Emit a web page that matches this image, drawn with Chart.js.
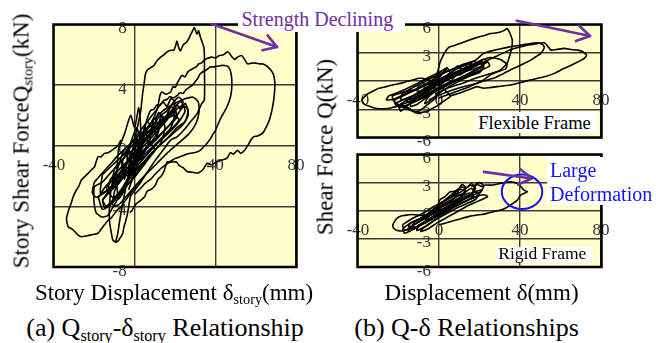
<!DOCTYPE html>
<html>
<head>
<meta charset="utf-8">
<script src="https://cdn.jsdelivr.net/npm/chart.js@4.4.1/dist/chart.umd.min.js"></script>
<style>
  html, body { margin: 0; padding: 0; background: #fff; }
  #wrap { position: relative; width: 656px; height: 343px; overflow: hidden;
          font-family: 'Liberation Serif', 'Times New Roman', serif; color: #000; }
  canvas { position: absolute; }
  .t { position: absolute; white-space: nowrap; line-height: 1; }
  .sub { font-size: 0.62em; position: relative; top: 0.3em; }
  .box { position: absolute; background: #fff; }
</style>
</head>
<body>
<div id="wrap">
  <canvas id="cStory" width="320" height="290" style="left:0;top:0;width:320px;height:290px"></canvas>
  <canvas id="cFlex" width="300" height="150" style="left:330px;top:0;width:300px;height:150px"></canvas>
  <canvas id="cRigid" width="300" height="145" style="left:330px;top:140px;width:300px;height:145px"></canvas>

  <div class="t" style="font-size:23px;left:21px;top:141px;transform:translate(-50%,-50%) rotate(-90deg)">Story Shear ForceQ<span class="sub">story</span>(kN)</div>
  <div class="t" style="font-size:23px;left:325px;top:146.5px;transform:translate(-50%,-50%) rotate(-90deg)">Shear Force Q(kN)</div>
  <div class="t" style="font-size:23px;left:174px;top:280.7px;transform:translateX(-50%)">Story Displacement δ<span class="sub">story</span>(mm)</div>
  <div class="t" style="font-size:23px;left:481.5px;top:280.7px;transform:translateX(-50%)">Displacement δ(mm)</div>
  <div class="t" style="font-size:26px;left:165px;top:315.2px;transform:translateX(-50%)">(a) Q<span class="sub">story</span>-δ<span class="sub">story</span> Relationship</div>
  <div class="t" style="font-size:26px;left:466.5px;top:315.2px;transform:translateX(-50%)">(b) Q-δ Relationships</div>

  <div class="box" style="left:238px;top:0;width:167px;height:31.5px"></div>
  <div class="t" style="font-size:20px;left:241.5px;top:9.25px;color:#7030A0">Strength Declining</div>

  <div class="box" style="left:475px;top:111.7px;width:121.7px;height:21px"></div>
  <div class="t" style="font-size:18.5px;left:478.3px;top:113.8px">Flexible Frame</div>

  <div class="box" style="left:495.7px;top:246.7px;width:97.6px;height:15px"></div>
  <div class="t" style="font-size:17.5px;left:498.3px;top:244.6px">Rigid Frame</div>

  <div class="box" style="left:547px;top:157px;width:109px;height:48px"></div>
  <div class="t" style="font-size:20px;left:550px;top:160px;color:#1414f0">Large</div>
  <div class="t" style="font-size:20px;left:550px;top:184.3px;color:#1414f0">Deformation</div>
</div>
<script>
// ---- axis ticks ----
const storyDispTicks = [-40, 0, 40, 80];
const storyShearTicks = [-8, -4, 0, 4, 8];
const frameDispTicks = [-40, 0, 40, 80];
const frameShearTicks = [-6, -3, 0, 3, 6];

// ---- (a) story shear force Q_story [kN] vs story displacement [mm] ----
const storyPeakLoop = [[-9.5,-6.4],[-8.4,-5.8],[-7.5,-5.0],[-6.8,-4.45],[-5.5,-3.5],[-4.3,-2.7],[-3,-1.8],[-1.9,-0.95],[-0.5,0.1],[0.6,0.8],[2,1.6],[3,2.3],[3.6,3.0],[4.1,3.6],[4.7,4.1],[5.3,4.7],[6.3,5.0],[8,5.15],[9.6,5.3],[11,5.6],[12.9,5.85],[14.5,6.0],[16.1,6.2],[18,6.3],[19.4,6.3],[20.3,6.6],[21,6.9],[21.8,6.5],[22.7,6.25],[23.5,6.5],[24.3,6.7],[25.5,6.8],[26.8,7.05],[27.6,7.3],[28.4,7.5],[29.6,7.8],[30.3,7.55],[30.9,7.35],[31.7,7.6],[32.5,7.2],[33.3,6.9],[34.3,6.5],[34.6,5.8],[34.6,5.0],[34.7,3.8],[34.5,3.0],[33.3,2.8],[30.9,2.1],[28.4,1.7],[25.1,1.14],[21,0.59],[17.8,0.37],[14,-0.3],[10,-1.0],[6,-1.8],[2,-2.6],[-2,-3.3]];
const storyWideLoop = [[-4,-2.4],[-2,-1.6],[0,-0.9],[2,-0.2],[4,0.4],[6,1.0],[8,1.5],[10,2.0],[11.5,2.6],[12.5,3.3],[13.5,3.55],[15.5,3.4],[17.8,3.55],[19,3.9],[20.2,3.85],[21,4.1],[22,4.35],[23.5,4.65],[25,4.55],[26.5,4.9],[27.6,5.0],[29,5.1],[30.5,5.2],[31.7,5.4],[33,5.45],[34.5,5.65],[35.8,5.75],[38,5.85],[40,5.8],[42,5.95],[44,6.0],[46,6.2],[47,6.1],[48,5.9],[49.5,5.7],[51,5.85],[53,5.95],[54.5,5.7],[56,5.4],[58,5.45],[60,5.45],[62,5.4],[63.6,5.4],[65.5,5.25],[67.5,5.0],[68.8,4.7],[69.5,4.2],[69.4,3.6],[68.8,2.9],[68,2.3],[66.8,1.7],[65.5,1.3],[63.6,0.85],[61,0.65],[59,0.6],[57.5,0.35],[56,0.0],[54.5,-0.3],[52.5,-0.5],[51,-0.3],[49,-0.55],[47.5,-0.45],[45.6,-0.84],[43,-0.95],[40.7,-1.06],[38,-1.25],[36,-1.15],[34,-1.55],[31.5,-1.8],[28.5,-1.75],[26,-1.7],[24,-1.45],[22,-1.3],[21,-1.1],[19,-1.05],[17.5,-1.1],[16.1,-1.06],[15.2,-1.4],[14.5,-1.7],[12.9,-2.05],[11.5,-2.2],[10.3,-2.6],[8,-2.9],[6.2,-3.0],[5,-3.35],[3,-3.6],[1,-3.8],[-0.2,-4.0],[-1.5,-4.3],[-2.5,-4.4]];
const storyMidLoop = [[-3,-2.9],[0,-1.8],[2,-0.8],[3.5,0.2],[5,1.2],[6.5,1.9],[8,2.35],[9.5,2.4],[11,2.7],[12.5,2.65],[14.5,3.0],[16,3.05],[17.5,3.25],[19,3.15],[21,3.3],[22.5,3.5],[24,3.45],[25.5,3.7],[27.6,3.9],[29,4.05],[30.5,4.3],[31.5,4.5],[32.5,4.75],[34,4.9],[35.5,5.0],[37.4,5.2],[39,5.2],[41,5.25],[43,5.3],[44.5,5.3],[46,5.25],[47.2,5.05],[48,4.6],[48.2,4.0],[47.8,3.4],[46.8,2.9],[45.5,2.5],[44.3,2.2],[43,1.9],[41.5,1.47],[40,1.0],[39,0.8],[37.5,0.45],[35.8,0.15],[34,-0.1],[32.5,-0.3],[30,-0.45],[27.6,-0.5],[25,-0.6],[23,-0.7],[20,-0.85],[18,-1.0],[15,-1.3],[13,-1.5],[10,-1.9],[8,-2.2],[5,-2.5],[3,-2.8],[0,-3.2]];
const storyInnerLoop = [[-10,-3],[-4,-1.2],[2,0.4],[8,1.5],[14,2.3],[20,2.8],[25,3.1],[29,3.2],[31.5,2.9],[32,2.3],[30.5,1.5],[27,0.8],[22,0.2],[16,-0.5],[10,-1.3],[4,-2.1],[-2,-3.0],[-8,-3.9],[-11,-3.9],[-10,-3]];
const storyInnerLoop2 = [[-16,-3.6],[-11,-2.6],[-6,-1.6],[0,-0.5],[6,0.5],[12,1.4],[18,2.1],[23,2.6],[26,2.5],[26.5,2.0],[24,1.4],[19,0.8],[13,0.1],[7,-0.7],[1,-1.6],[-5,-2.6],[-11,-3.6],[-15,-4.1],[-16,-3.6]];
const storyLeftLoop = [[-6.8,0.37],[-8.4,0.0],[-10,-0.18],[-13,-0.45],[-15,-0.5],[-16.6,-0.73],[-18.2,-0.73],[-19.9,-1.39],[-21.5,-1.6],[-23.1,-1.82],[-24.5,-2.0],[-26.4,-2.26],[-27.8,-2.7],[-28.9,-2.92],[-30.5,-3.36],[-31.5,-3.8],[-33,-4.35],[-33.8,-4.8],[-33.5,-5.1],[-33,-5.34],[-31,-5.5],[-29.7,-5.66],[-28,-5.9],[-26.4,-6.0],[-24,-5.95],[-21.5,-5.88],[-18.2,-5.77],[-16.6,-5.5],[-15,-5.22],[-13,-4.9],[-11.7,-4.78],[-9,-4.3],[-6.8,-4.02],[-4,-3.5],[-1.9,-3.1],[1,-2.6],[3,-2.3]];
const storyLeftInnerLoop = [[-8,-1.2],[-12,-1.8],[-16,-2.4],[-19.9,-2.7],[-20.3,-3.3],[-19.9,-4.0],[-19,-4.45],[-17.5,-4.6],[-16.6,-4.7],[-15,-4.68],[-13.3,-4.6],[-11,-4.1],[-8,-3.4],[-5,-2.6],[-2,-1.9]];
const storyBottomLoop = [[-2,-3.2],[-3.5,-4.45],[-4.5,-5.0],[-5.2,-5.3],[-6,-5.8],[-6.8,-6.0],[-8,-6.25],[-9.2,-6.35],[-10.2,-6.3],[-10.9,-6.2],[-11.5,-5.8],[-11.9,-5.5],[-12.4,-5.1],[-12.6,-4.5],[-12.5,-4.0],[-12.2,-3.4],[-11.7,-2.9],[-11,-2.4],[-10,-2.05],[-8.5,-1.5],[-7,-0.9],[-5.5,-0.3]];
const storyCore1 = [[-16,-1.9],[-12,-1.4],[-8,-0.9],[-4,-0.4],[0,0.2],[4,0.6],[8,1.1],[12,1.6],[16,2.0],[20,2.6],[23,2.9],[25,2.3],[22,1.6],[18,1.0],[14,0.5],[10,0.0],[6,-0.6],[2,-1.0],[-2,-1.6],[-6,-2.1],[-10,-2.6],[-14,-3.0],[-17,-3.1],[-16,-1.9]];
const storyCore2 = [[-10,-1.5],[-6,-0.9],[-2,-0.4],[2,0.1],[6,0.6],[10,1.2],[14,1.7],[18,2.2],[20,2.4],[21,1.9],[17,1.3],[13,0.8],[9,0.3],[5,-0.3],[1,-0.9],[-3,-1.4],[-7,-2.0],[-11,-2.4],[-10,-1.5]];
const storyCore3 = [[-20,-2.4],[-16,-1.8],[-12,-1.2],[-8,-0.6],[-4,-0.1],[0,0.4],[4,0.9],[8,1.3],[11,1.5],[12,1.0],[9,0.4],[5,-0.2],[1,-0.8],[-3,-1.4],[-7,-2.0],[-11,-2.6],[-15,-3.1],[-19,-3.4],[-21,-3.1],[-20,-2.4]];
const storyCore4 = [[-2,-0.8],[2,-0.1],[6,0.5],[10,1.0],[14,1.5],[17,2.2],[19,2.0],[21,2.7],[23,2.4],[25,2.8],[26.5,2.3],[25,1.6],[21,1.2],[17,0.6],[13,0.1],[9,-0.4],[5,-1.0],[1,-1.5],[-2,-1.9],[-3,-1.4],[-2,-0.8]];
const storyCore5 = [[-14,-2.8],[-10,-2.0],[-7,-1.0],[-5,-2.2],[-3,-0.2],[-1,-1.4],[1,0.5],[3,-0.6],[5,1.2],[7,0.0],[9,1.6],[11,0.6],[13,2.0],[15,1.2],[13,0.2],[9,-0.5],[5,-1.2],[1,-1.9],[-3,-2.5],[-7,-3.1],[-11,-3.4],[-14,-2.8]];
const storyCore6 = [[-6,-1.0],[-2,0.2],[1,1.2],[3,0.4],[6,1.6],[9,1.2],[12,2.2],[15,1.8],[18,2.6],[20,2.2],[18,1.2],[14,0.6],[10,0.0],[6,-0.6],[2,-1.2],[-2,-1.8],[-5,-2.0],[-6,-1.0]];
const storyCore7 = [[-8,-0.2],[-5,0.8],[-2,2.0],[0,1.2],[2,2.5],[3,1.0],[1,-0.5],[-2,-1.8],[-5,-2.9],[-8,-3.5],[-9,-2.0],[-8,-0.2]];
const storyCore8 = [[-18,-3.4],[-14,-2.6],[-10,-2.2],[-6,-1.5],[-2,-0.7],[2,-0.2],[0,-1.3],[-4,-2.3],[-8,-3.2],[-12,-3.9],[-16,-4.2],[-18,-3.4]];
const storyCore9 = [[-12,-2.2],[-8,-1.6],[-4,-1.1],[0,-0.5],[4,0.1],[8,0.7],[12,1.3],[16,1.8],[20,2.0],[22,1.7],[19,1.2],[15,0.7],[11,0.2],[7,-0.3],[3,-0.8],[-1,-1.3],[-5,-1.9],[-9,-2.5],[-12,-2.9],[-13,-2.6],[-12,-2.2]];
const storyCore10 = [[-4,-0.3],[0,0.5],[4,1.2],[8,1.9],[11,2.4],[14,2.9],[16,2.6],[18,3.1],[20,2.9],[19,2.3],[16,1.7],[12,1.1],[8,0.5],[4,-0.1],[0,-0.7],[-3,-1.0],[-4,-0.3]];
const storyCore11 = [[-16,-3.6],[-12,-3.0],[-8,-2.5],[-4,-1.8],[0,-1.2],[4,-0.5],[8,0.1],[10,-0.3],[6,-0.9],[2,-1.6],[-2,-2.3],[-6,-3.0],[-10,-3.6],[-14,-4.0],[-16,-3.6]];
const storyCore12 = [[0,-0.2],[4,0.6],[8,1.0],[12,1.9],[16,2.3],[20,3.0],[22,3.2],[24,2.9],[22,2.2],[18,1.5],[14,0.9],[10,0.3],[6,-0.2],[2,-0.8],[0,-0.2]];
const storyLoops = [storyPeakLoop, storyWideLoop, storyMidLoop, storyInnerLoop, storyInnerLoop2, storyLeftLoop, storyLeftInnerLoop, storyBottomLoop, storyCore1, storyCore2, storyCore3, storyCore4, storyCore5, storyCore6, storyCore7, storyCore8, storyCore9, storyCore10, storyCore11, storyCore12];

// ---- (b) flexible frame Q [kN] vs displacement [mm] ----
const flexPeakLoop = [[-4,-0.4],[-1.3,0.46],[0.35,1.87],[2,2.7],[3.7,3.3],[5.35,3.63],[8,3.8],[10.3,3.99],[13,4.2],[15,4.35],[17,4.5],[20,4.7],[22,4.8],[25.3,5.04],[28,5.1],[30.3,5.2],[32,5.35],[33.7,5.57],[34.5,5.3],[35.2,5.0],[36.2,4.34],[36,3.6],[35.3,2.93],[34.5,2.4],[33.7,1.87],[32,1.5],[30.3,1.16],[28,0.9],[25.3,0.63],[22,0.1],[18,-0.3],[14,-0.7],[10,-1.0],[5,-1.4],[0,-1.8]];
const flexMidLoop = [[-3,-0.8],[2,0.3],[8,1.2],[14,1.8],[18,2.2],[22,2.93],[26,3.2],[30,3.4],[35.3,3.63],[40,3.8],[45.3,3.99],[48,4.05],[50.3,3.99],[52,3.63],[51.5,3.3],[50.3,2.93],[48,2.6],[45.3,2.22],[42,1.85],[38.7,1.51],[35,1.15],[32,0.81],[29.5,0.55],[27,0.29],[22,0.0],[17,-0.35],[12,-0.6],[6,-1.0],[0,-1.5],[-5,-2.0]];
const flexWideLoop = [[10,0.6],[16,1.4],[22,2.0],[28,2.6],[34,3.2],[38,3.5],[43.7,3.81],[48,3.95],[52,4.06],[54,3.6],[55.3,3.28],[58,3.35],[62,3.46],[65,3.35],[68.7,3.28],[71,3.1],[72.9,2.75],[72,2.45],[70.3,2.22],[67,1.85],[63.7,1.51],[60,1.15],[57,0.81],[53,0.5],[48.7,0.29],[45,0.1],[42,-0.07],[38,-0.3],[35.3,-0.42],[32,-0.5],[28.7,-0.6],[25,-0.7],[22,-0.77],[18.7,-0.6],[15,-0.9],[10,-1.3],[5,-1.6]];
const flexInnerLoop = [[-8,-1.0],[0,0.0],[8,0.9],[15,1.6],[20,2.1],[25,2.5],[30,2.3],[33.5,1.8],[33,1.3],[29,1.0],[24,0.7],[18,0.3],[12,-0.2],[5,-0.7],[-2,-1.4]];
const flexLeftLoop = [[6,-1.6],[2,-0.8],[-2,-0.2],[-6,0.2],[-9.7,0.29],[-13,0.1],[-16.3,-0.07],[-19,-0.25],[-22.9,-0.42],[-26,-0.6],[-29.7,-0.77],[-32,-1.0],[-34.7,-1.3],[-36.5,-1.6],[-38,-2.0],[-37.5,-2.3],[-36.3,-2.54],[-34,-2.7],[-31.3,-2.89],[-28,-2.95],[-24.7,-2.89],[-21.3,-2.72],[-18,-2.6],[-14.7,-2.89],[-13,-3.2],[-11.3,-3.4],[-9,-3.35],[-6.3,-3.25],[-4,-3.0],[-1.3,-2.7],[2,-2.2],[6,-1.6]];
const flexLeftInnerLoop = [[-10,-0.9],[-16,-1.1],[-21,-1.4],[-23,-1.6],[-22.5,-2.1],[-21.3,-2.36],[-18,-2.7],[-14.7,-3.07],[-12.5,-3.2],[-10.5,-3.25],[-8,-2.9],[-5,-2.4],[-1,-1.7]];
const flexCore1 = [[-22,-2.0],[-16,-1.4],[-10,-0.8],[-4,-0.2],[2,0.4],[8,0.9],[14,1.4],[20,1.8],[24,2.0],[25,1.6],[20,1.1],[14,0.6],[8,0.1],[2,-0.5],[-4,-1.1],[-10,-1.7],[-16,-2.3],[-21,-2.6],[-22,-2.0]];
const flexCore2 = [[-18,-1.3],[-12,-0.6],[-6,0.1],[0,0.7],[6,1.2],[12,1.7],[17,2.1],[19,1.8],[14,1.1],[8,0.5],[2,-0.1],[-4,-0.8],[-10,-1.5],[-15,-2.0],[-19,-1.9],[-18,-1.3]];
const flexCore3 = [[-14,-2.2],[-8,-1.4],[-2,-0.5],[4,0.3],[10,1.0],[16,1.6],[22,2.3],[24,2.1],[18,1.2],[12,0.5],[6,-0.2],[0,-0.9],[-6,-1.7],[-11,-2.5],[-14,-2.7],[-14,-2.2]];
const flexCore4 = [[-25,-1.6],[-18,-1.0],[-12,-0.4],[-6,0.3],[0,0.9],[4,1.4],[2,0.8],[-4,0.0],[-10,-0.7],[-16,-1.3],[-22,-1.9],[-26,-2.0],[-25,-1.6]];
const flexCore5 = [[-6,-1.9],[-2,-1.0],[3,0.0],[8,0.6],[13,1.0],[18,1.3],[22,1.5],[20,0.9],[15,0.5],[10,0.0],[5,-0.6],[0,-1.3],[-4,-2.0],[-7,-2.4],[-6,-1.9]];
const flexCore6 = [[-20,-2.6],[-15,-1.9],[-10,-1.2],[-5,-0.5],[0,0.2],[-2,-0.6],[-7,-1.3],[-12,-2.0],[-16,-2.7],[-19,-3.2],[-20,-2.6]];
const flexCore7 = [[-15,-1.8],[-10,-1.2],[-5,-0.6],[0,-0.1],[5,0.5],[10,1.0],[15,1.5],[20,1.9],[22,1.6],[17,1.0],[12,0.5],[7,0.0],[2,-0.6],[-3,-1.2],[-8,-1.8],[-13,-2.3],[-16,-2.2],[-15,-1.8]];
const flexCore8 = [[-10,-0.5],[-5,0.2],[0,0.6],[5,1.1],[10,1.6],[14,1.9],[16,1.6],[12,1.0],[7,0.5],[2,0.0],[-3,-0.6],[-8,-1.1],[-11,-1.0],[-10,-0.5]];
const flexCore9 = [[-22,-2.4],[-17,-1.9],[-12,-1.5],[-7,-1.0],[-2,-0.4],[3,0.1],[8,0.6],[6,0.0],[1,-0.6],[-4,-1.2],[-9,-1.8],[-14,-2.4],[-19,-2.8],[-22,-2.4]];
const flexCore10 = [[-3,-0.3],[1,0.6],[4,1.4],[6,0.8],[9,1.6],[12,1.2],[15,2.0],[18,1.5],[21,2.1],[22,1.4],[18,0.8],[13,0.4],[8,0.0],[3,-0.6],[-1,-1.0],[-3,-0.3]];
const flexLoops = [flexPeakLoop, flexMidLoop, flexWideLoop, flexInnerLoop, flexLeftLoop, flexLeftInnerLoop, flexCore1, flexCore2, flexCore3, flexCore4, flexCore5, flexCore6, flexCore7, flexCore8, flexCore9, flexCore10];

// ---- (b) rigid frame Q [kN] vs displacement [mm] ----
const rigidWideLoop = [[-2,-0.6],[0.35,1.14],[3,1.5],[5.35,2.0],[8,2.1],[11.2,2.55],[13,2.4],[15.3,2.73],[17,2.6],[19,2.8],[21,2.6],[23,2.75],[25.3,2.73],[28,2.8],[31,2.95],[35.3,3.09],[38.7,2.91],[40.5,2.55],[42,2.2],[43.7,2.02],[42,1.85],[40.3,1.67],[39.5,1.4],[38.7,1.14],[35.3,0.61],[33,0.3],[30.3,0.07],[27,-0.1],[23.7,-0.28],[21,-0.4],[18.7,-0.46],[15,-0.6],[10,-0.9],[5,-1.2],[0,-1.5]];
const rigidLeftLoop = [[-4,-0.3],[-8,-0.5],[-11,-0.45],[-13.5,-0.4],[-15.3,-0.45],[-17.5,-0.5],[-19.6,-0.63],[-21,-0.85],[-22,-1.16],[-22.8,-1.5],[-22.6,-1.8],[-21.3,-2.04],[-19.5,-2.15],[-18,-2.15],[-15.5,-2.0],[-13,-1.87],[-11,-1.7],[-9.7,-1.5],[-7,-1.2],[-4,-0.9]];
const rigidCore1 = [[-15,-1.8],[-10,-1.2],[-5,-0.6],[0,0.0],[5,0.6],[10,1.2],[15,1.7],[19,2.1],[21,2.2],[19,1.6],[14,1.1],[9,0.6],[4,0.0],[-1,-0.6],[-6,-1.2],[-11,-1.8],[-15,-2.2],[-15,-1.8]];
const rigidCore2 = [[-12,-1.2],[-7,-0.6],[-2,0.1],[3,0.8],[8,1.4],[13,2.0],[16,2.4],[17,2.0],[12,1.3],[7,0.7],[2,0.1],[-3,-0.6],[-8,-1.3],[-12,-1.8],[-13,-1.5],[-12,-1.2]];
const rigidCore3 = [[-18,-1.5],[-13,-0.8],[-8,-0.3],[-3,0.4],[2,1.0],[6,1.6],[9,1.9],[7,1.2],[2,0.5],[-3,-0.2],[-8,-0.9],[-13,-1.6],[-17,-2.1],[-18,-1.5]];
const rigidCore4 = [[-8,-1.9],[-3,-1.1],[2,-0.4],[7,0.3],[12,0.9],[17,1.4],[22,1.7],[24,1.5],[19,1.0],[14,0.5],[9,-0.1],[4,-0.7],[-1,-1.3],[-6,-2.0],[-9,-2.2],[-8,-1.9]];
const rigidCore5 = [[-5,-0.2],[0,0.6],[5,1.3],[10,1.9],[14,2.5],[16,2.9],[18,2.4],[15,1.6],[10,0.9],[5,0.3],[0,-0.4],[-5,-1.0],[-7,-0.7],[-5,-0.2]];
const rigidCore6 = [[-14,-1.3],[-9,-0.8],[-4,-0.2],[1,0.4],[6,0.9],[11,1.5],[15,1.9],[17,1.6],[13,1.0],[8,0.5],[3,-0.1],[-2,-0.7],[-7,-1.3],[-12,-1.8],[-15,-1.7],[-14,-1.3]];
const rigidCore7 = [[-10,-1.6],[-5,-0.9],[0,-0.3],[5,0.4],[10,1.0],[15,1.5],[20,1.9],[18,1.2],[13,0.7],[8,0.2],[3,-0.4],[-2,-1.0],[-7,-1.7],[-11,-2.1],[-10,-1.6]];
const rigidCore8 = [[-6,-0.5],[-2,0.3],[2,0.9],[5,1.5],[8,2.0],[11,2.3],[13,2.0],[10,1.3],[6,0.7],[2,0.1],[-2,-0.5],[-6,-1.1],[-7,-0.8],[-6,-0.5]];
const rigidCore9 = [[-18,-1.9],[-14,-1.3],[-10,-0.9],[-6,-0.4],[-2,0.0],[1,0.2],[-1,-0.5],[-5,-1.0],[-9,-1.5],[-13,-2.0],[-17,-2.4],[-18,-1.9]];
const rigidSmallLoop1 = [[9,1.7],[10,2.4],[11.5,2.8],[13,2.5],[12.5,1.9],[11,1.6],[9,1.7]];
const rigidSmallLoop2 = [[17,2.2],[18,2.8],[20,3.0],[22,2.7],[21,2.1],[19,1.9],[17,2.2]];
const rigidLoops = [rigidWideLoop, rigidLeftLoop, rigidCore1, rigidCore2, rigidCore3, rigidCore4, rigidCore5, rigidCore6, rigidCore7, rigidCore8, rigidCore9, rigidSmallLoop1, rigidSmallLoop2];

// Draws the pale plot face, the tick labels sitting on the zero axes,
// the heavy frame, and arrow / ellipse annotations given in data units.
const panelDecor = {
  id: 'panelDecor',
  beforeDraw(chart, args, opts) {
    const { ctx, chartArea: a } = chart;
    ctx.save();
    ctx.fillStyle = '#FFFFCC';
    ctx.fillRect(a.left, a.top, a.right - a.left, a.bottom - a.top);
    ctx.restore();
  },
  beforeDatasetsDraw(chart, args, opts) {
    const { ctx, scales: { x, y } } = chart;
    const x0 = x.getPixelForValue(0), y0 = y.getPixelForValue(0);
    ctx.save();
    ctx.font = '17px "Liberation Serif", serif';
    ctx.fillStyle = '#333';
    ctx.textBaseline = 'alphabetic';
    ctx.textAlign = 'center';
    opts.xTicks.forEach(v => ctx.fillText(String(v), x.getPixelForValue(v), y0 + 24));
    ctx.textAlign = 'right';
    opts.yTicks.forEach(v => ctx.fillText(String(v), x0 - 8, y.getPixelForValue(v) + 8.5));
    ctx.restore();
  },
  afterDatasetsDraw(chart, args, opts) {
    const { ctx, chartArea: a, scales: { x, y } } = chart;
    ctx.save();
    ctx.strokeStyle = '#000';
    ctx.lineWidth = 2.5;
    ctx.strokeRect(a.left - 0.5, a.top, a.right - a.left + 1, a.bottom - a.top);
    (opts.ellipses || []).forEach(e => {
      const cx = x.getPixelForValue(e.cx), cy = y.getPixelForValue(e.cy);
      const rx = Math.abs(x.getPixelForValue(e.cx + e.rx) - cx);
      const ry = Math.abs(y.getPixelForValue(e.cy + e.ry) - cy);
      ctx.beginPath();
      ctx.ellipse(cx, cy, rx, ry, 0, 0, Math.PI * 2);
      ctx.strokeStyle = e.color; ctx.lineWidth = 2;
      ctx.stroke();
    });
    (opts.arrows || []).forEach(ar => {
      const sx = x.getPixelForValue(ar.from[0]), sy = y.getPixelForValue(ar.from[1]);
      const tx = x.getPixelForValue(ar.to[0]), ty = y.getPixelForValue(ar.to[1]);
      const ang = Math.atan2(ty - sy, tx - sx);
      const len = 15, spread = 0.55;
      ctx.strokeStyle = '#7030A0'; ctx.lineWidth = 2.6; ctx.lineCap = 'round'; ctx.lineJoin = 'round';
      ctx.beginPath(); ctx.moveTo(sx, sy); ctx.lineTo(tx, ty); ctx.stroke();
      ctx.beginPath();
      ctx.moveTo(tx - len * Math.cos(ang - spread), ty - len * Math.sin(ang - spread));
      ctx.lineTo(tx, ty);
      ctx.lineTo(tx - len * Math.cos(ang + spread), ty - len * Math.sin(ang + spread));
      ctx.stroke();
    });
    ctx.restore();
  }
};

function loopDatasets(loops) {
  return loops.map(loop => ({
    data: loop.map(([x, y]) => ({ x, y })),
    showLine: true,
    borderColor: '#000',
    borderWidth: 1.6,
    pointRadius: 0,
    tension: 0.2,
    fill: false
  }));
}

function axis(min, max, ticks) {
  return {
    type: 'linear', min, max,
    afterBuildTicks: s => { s.ticks = ticks.map(v => ({ value: v })); },
    ticks: { display: false },
    grid: { color: '#3a3a3a', lineWidth: 1.4, drawTicks: false },
    border: { display: false }
  };
}

function makePanel(id, loops, xTicks, yTicks, yMin, yMax, padding, deco) {
  return new Chart(document.getElementById(id), {
    type: 'scatter',
    data: { datasets: loopDatasets(loops) },
    options: {
      responsive: false,
      animation: false,
      devicePixelRatio: 1,
      layout: { padding },
      scales: { x: axis(-40, 80, xTicks), y: axis(yMin, yMax, yTicks) },
      plugins: {
        legend: { display: false },
        tooltip: { enabled: false },
        panelDecor: Object.assign({ xTicks, yTicks }, deco)
      }
    },
    plugins: [panelDecor]
  });
}

makePanel('cStory', storyLoops, storyDispTicks, storyShearTicks, -8, 8,
  { left: 54, top: 24.5, right: 24, bottom: 23 },
  { arrows: [{ from: [38.3, 8.03], to: [70.6, 6.51] }] });

makePanel('cFlex', flexLoops, frameDispTicks, frameShearTicks, -6, 6,
  { left: 28, top: 24.5, right: 29, bottom: 12.5 },
  { arrows: [{ from: [38.4, 6.4], to: [74.6, 4.78] }] });

makePanel('cRigid', rigidLoops, frameDispTicks, frameShearTicks, -6, 6,
  { left: 28, top: 14.5, right: 29, bottom: 18 },
  { arrows: [{ from: [22.2, 4.15], to: [45.8, 3.44] }],
    ellipses: [{ cx: 41, cy: 2.02, rx: 10, ry: 1.84, color: '#1414f0' }] });
</script>
</body>
</html>
